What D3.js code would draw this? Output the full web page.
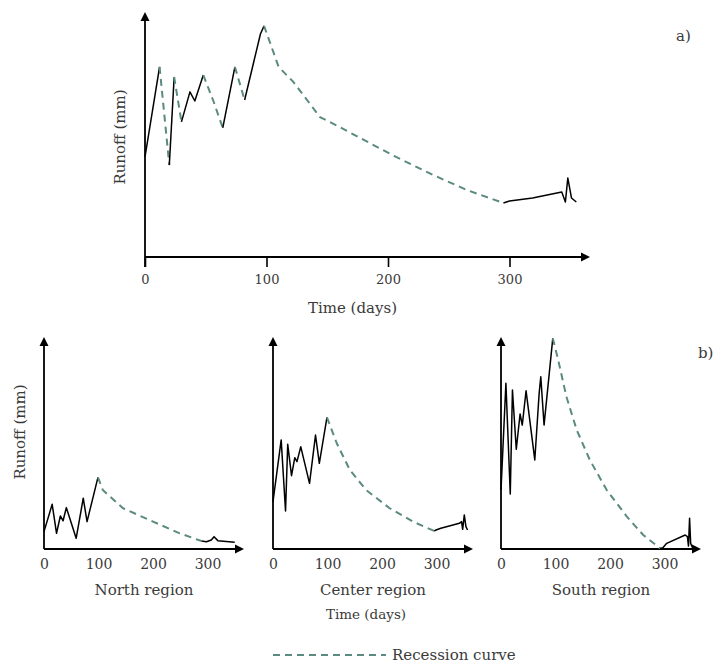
<!DOCTYPE html>
<html>
<head>
<meta charset="utf-8">
<script src="https://cdn.jsdelivr.net/npm/d3@7"></script>
<style>
  body { margin: 0; background: #fff; }
  svg text { font-family: "DejaVu Serif", serif; fill: #3a3a3a; }
</style>
</head>
<body>
<svg id="chart" width="717" height="664"></svg>
<script>

// ---- data (runoff in arbitrary mm units) ----

var topDays   = [0, 12, 20, 24, 30, 37, 41, 48, 56, 64, 74, 82, 95, 98,
                 110, 122, 144, 160, 205, 237, 265, 295,
                 300, 319, 339, 343, 346, 348, 351, 355]
var topRunoff = [41.7, 79.2, 38.3, 75, 56.3, 68.8, 65, 75.8, 65.4, 53.8, 79.2, 65.4, 92.9, 96.3,
                 79.2, 73.0, 58.3, 54.2, 42.1, 34.2, 27.9, 22.5,
                 23.3, 24.6, 26.7, 27.1, 22.9, 32.9, 24.6, 22.9]
var topRecessions = [[12, 20], [24, 30], [48, 64], [74, 82], [98, 295]]

var northDays   = [0, 15, 23, 30, 35, 41, 59, 72, 79, 99,
                   108, 145, 200, 249, 289,
                   298, 307, 312, 319, 350]
var northRunoff = [8.3, 21.4, 7.5, 15.8, 13.5, 19.8, 5.1, 24.3, 13.1, 34.3,
                   28.2, 19.5, 13.1, 7.5, 3.8,
                   3.5, 4.3, 5.9, 4.0, 3.2]
var northRecessions = [[99, 289]]

var centerDays   = [0, 15, 23, 27, 34, 40, 44, 51, 67, 78, 85, 99,
                    117, 141, 171, 214, 257, 296,
                    299, 308, 342, 346, 348, 351, 354, 357]
var centerRunoff = [22.6, 52.2, 18.2, 50.1, 35.1, 43.7, 41.8, 48.9, 31.4, 54.5, 41.0, 63.0,
                    50.6, 37.8, 28.2, 19.5, 13.1, 8.6,
                    9.1, 9.9, 12.3, 13.1, 9.4, 16.3, 10.7, 9.1]
var centerRecessions = [[99, 296]]

var southDays   = [0, 9, 17, 21, 28, 35, 39, 46, 62, 70, 73, 79, 95,
                   105, 120, 139, 163, 194, 231, 261, 292,
                   297, 304, 338, 342, 344, 346, 348, 352]
var southRunoff = [28.2, 79.3, 26.3, 76.1, 47.7, 64.6, 59.3, 75.7, 42.6, 74.5, 82.4, 59.3, 100.8,
                   90.4, 72.9, 56.9, 42.6, 28.2, 15.5, 6.7, 0.3,
                   0.6, 2.7, 6.7, 5.9, 1.4, 14.7, 2.7, 0.3]
var southRecessions = [[95, 292]]

var dayTicks = [0, 100, 200, 300]
var regionNames = ["North region", "Center region", "South region"]
var legendLabel = "Recession curve"

// ---- drawing ----

var svg = d3.select("#chart")
var recessionColor = "#5a8a80"

function arrowHead(g, x, y, dir) {
  // small filled triangle, tip at (x,y)
  var p = dir === "up"
    ? [[x, y], [x - 4.5, y + 9], [x + 4.5, y + 9]]
    : [[x, y], [x - 9, y - 4.5], [x - 9, y + 4.5]]
  g.append("path").attr("d", "M" + p.join("L") + "Z").attr("fill", "#000")
}

function isRecession(a, b, recs) {
  return recs.some(function (r) { return a >= r[0] && b <= r[1] })
}

// split a series into runs of solid / dashed segments
function splitSeries(days, values, recs) {
  var runs = []
  for (var i = 0; i < days.length - 1; i++) {
    var dashed = isRecession(days[i], days[i + 1], recs)
    var last = runs[runs.length - 1]
    if (!last || last.dashed !== dashed) {
      last = { dashed: dashed, pts: [[days[i], values[i]]] }
      runs.push(last)
    }
    last.pts.push([days[i + 1], values[i + 1]])
  }
  return runs
}

function drawPanel(opt) {
  var g = svg.append("g")
  var x = d3.scaleLinear().domain([0, 300]).range([opt.x0, opt.x300])
  var y = d3.scaleLinear().domain([0, 100]).range([opt.yBase, opt.yTop])

  // axes
  var ax = g.append("g").attr("transform", "translate(0," + opt.yBase + ")")
    .call(d3.axisBottom(x).tickValues(dayTicks).tickSize(opt.tickSize).tickPadding(opt.tickPad))
  ax.select(".domain").remove()
  ax.selectAll(".tick line").attr("stroke", "#000").attr("stroke-width", 1.6)
  ax.selectAll(".tick text").attr("fill", "#3a3a3a").style("font-size", opt.tickFont + "px")
    .style("font-family", "DejaVu Serif")

  g.append("line").attr("x1", opt.x0).attr("x2", opt.xArrow - 6)
    .attr("y1", opt.yBase).attr("y2", opt.yBase).attr("stroke", "#000").attr("stroke-width", 1.8)
  arrowHead(g, opt.xArrow, opt.yBase, "right")
  g.append("line").attr("x1", opt.x0).attr("x2", opt.x0)
    .attr("y1", opt.yBase + (opt.tickSize ? opt.tickSize : 0)).attr("y2", opt.yArrow + 6)
    .attr("stroke", "#000").attr("stroke-width", 1.8)
  arrowHead(g, opt.x0, opt.yArrow, "up")

  // series
  var line = d3.line().x(function (d) { return x(d[0]) }).y(function (d) { return y(d[1]) })
  splitSeries(opt.days, opt.values, opt.recs).forEach(function (run) {
    g.append("path").attr("d", line(run.pts)).attr("fill", "none")
      .attr("stroke", run.dashed ? recessionColor : "#000")
      .attr("stroke-width", run.dashed ? 2 : 1.5)
      .attr("stroke-dasharray", run.dashed ? "7,5" : null)
      .attr("stroke-linejoin", "round")
  })

  if (opt.label) {
    g.append("text").attr("x", (opt.x0 + opt.xArrow) / 2 + opt.labelDx).attr("y", opt.labelY)
      .attr("text-anchor", "middle").style("font-size", "15px").text(opt.label)
  }
  if (opt.yLabel) {
    g.append("text").attr("transform", "translate(" + opt.yLabelX + "," + opt.yLabelY + ") rotate(-90)")
      .attr("text-anchor", "middle").style("font-size", "15px").text("Runoff (mm)")
  }
}

// a) whole country
drawPanel({
  days: topDays, values: topRunoff, recs: topRecessions,
  x0: 145, x300: 509.5, xArrow: 590, yBase: 257, yTop: 17, yArrow: 12,
  tickSize: 10, tickPad: 8, tickFont: 13,
  label: "Time (days)", labelDx: -15, labelY: 313,
  yLabel: true, yLabelX: 125, yLabelY: 137
})

// b) regions
var regionX0 = [44, 273, 501]
var regionData = [
  [northDays, northRunoff, northRecessions],
  [centerDays, centerRunoff, centerRecessions],
  [southDays, southRunoff, southRecessions]
]
regionData.forEach(function (d, i) {
  drawPanel({
    days: d[0], values: d[1], recs: d[2],
    x0: regionX0[i], x300: regionX0[i] + 163.5, xArrow: regionX0[i] + 200,
    yBase: 549, yTop: 340, yArrow: 337,
    tickSize: 0, tickPad: 10, tickFont: 14,
    label: regionNames[i], labelDx: 0, labelY: 595,
    yLabel: i === 0, yLabelX: 25, yLabelY: 432
  })
})

svg.append("text").attr("x", 366).attr("y", 619).attr("text-anchor", "middle")
  .style("font-size", "13.5px").text("Time (days)")

svg.append("text").attr("x", 676).attr("y", 41).style("font-size", "15px").text("a)")
svg.append("text").attr("x", 698).attr("y", 358).style("font-size", "15px").text("b)")

// legend
svg.append("line").attr("x1", 273).attr("x2", 386).attr("y1", 655).attr("y2", 655)
  .attr("stroke", recessionColor).attr("stroke-width", 2).attr("stroke-dasharray", "7,5")
svg.append("text").attr("x", 392).attr("y", 660).style("font-size", "15px").text(legendLabel)

</script>
</body>
</html>
